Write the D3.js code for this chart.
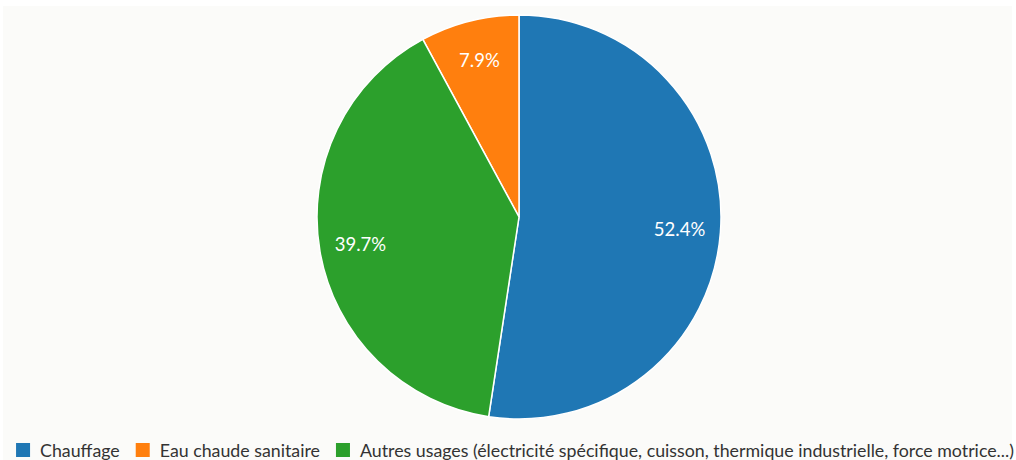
<!DOCTYPE html>
<html><head><meta charset="utf-8">
<script src="https://cdn.jsdelivr.net/npm/d3@7"></script>
<style>
html,body{margin:0;padding:0;background:#ffffff;}
svg{display:block;font-family:Lato,"Noto Sans",sans-serif;}
</style></head>
<body>
<svg id="chart" width="1016" height="460"></svg>
<script>
const categories = ["Chauffage", "Eau chaude sanitaire", "Autres usages (électricité spécifique, cuisson, thermique industrielle, force motrice...)"];
const values = [52.4, 7.9, 39.7];
const colors = ["#1f77b4", "#ff7f0e", "#2ca02c"];
const drawOrder = [0, 2, 1]; // clockwise from top

const svg = d3.select("#chart");
svg.append("rect").attr("x",3).attr("y",6).attr("width",1009).attr("height",454).attr("fill","#fbfbf9");

const cx = 519, cy = 217, R = 202, labelR = 161;
const data = categories.map((c,i)=>({name:c, value:values[i], color:colors[i], idx:i}));
const pie = d3.pie().value(d=>d.value)
  .sort((a,b)=>drawOrder.indexOf(a.idx)-drawOrder.indexOf(b.idx));
const arcs = pie(data);
const arc = d3.arc().innerRadius(0).outerRadius(R);
const g = svg.append("g").attr("transform",`translate(${cx},${cy})`);
g.selectAll("path").data(arcs).join("path")
  .attr("d",arc).attr("fill",d=>d.data.color)
  .attr("stroke","#ffffff").attr("stroke-width",1.5);
const labelArc = d3.arc().innerRadius(labelR).outerRadius(labelR);
g.selectAll("text").data(arcs).join("text")
  .attr("transform",d=>`translate(${labelArc.centroid(d)})`)
  .attr("text-anchor","middle").attr("dy","0.35em")
  .attr("fill","#ffffff").attr("font-size",18.5)
  .text(d=>d.data.value.toFixed(1)+"%");

// legend
const lg = svg.append("g");
const sq = 14, gapText = 10, gapItem = 16, baseY = 451;
let x = 0;
data.forEach(d=>{
  const it = lg.append("g");
  it.append("rect").attr("x",x).attr("y",baseY-sq/2-1).attr("width",sq).attr("height",sq).attr("fill",d.color);
  const t = it.append("text").attr("x",x+sq+gapText).attr("y",baseY).attr("dy","0.35em")
    .attr("font-size",17.8).attr("fill","#333333").text(d.name);
  x += sq+gapText+t.node().getComputedTextLength()+gapItem;
});
const total = x - gapItem;
lg.attr("transform",`translate(${1030/2 - total/2},0)`);
</script>
</body></html>
